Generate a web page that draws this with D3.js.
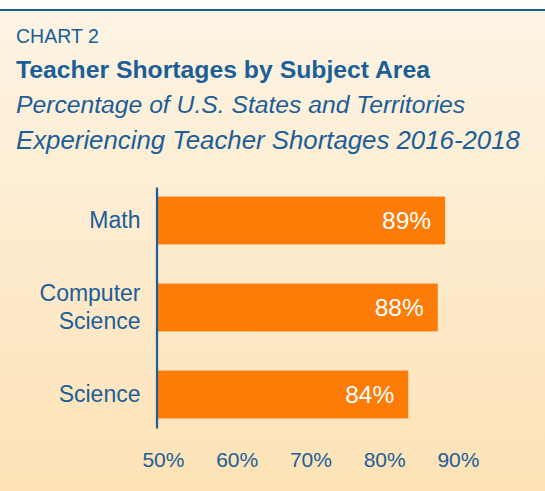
<!DOCTYPE html>
<html>
<head>
<meta charset="utf-8">
<script src="https://cdn.jsdelivr.net/npm/d3@7"></script>
<style>
  body { margin: 0; background: #fff; }
  svg { display: block; font-family: "Liberation Sans", Arial, sans-serif; }
</style>
</head>
<body>
<svg></svg>
<script>
const subjects = ["Math", "Computer Science", "Science"];
const shares = [89, 88, 84];
const tickValues = [50, 60, 70, 80, 90];

const data = subjects.map((s, i) => ({ subject: s, value: shares[i] }));

const width = 545, height = 491;
const blue = "#1c5e98";
const orange = "#fd7b07";

const svg = d3.select("svg")
    .attr("width", width)
    .attr("height", height);

// nền gradient
const grad = svg.append("defs").append("linearGradient")
    .attr("id", "bg")
    .attr("x1", 0).attr("y1", 0).attr("x2", 0).attr("y2", 1);
grad.append("stop").attr("offset", "0%").attr("stop-color", "#fdf4e4");
grad.append("stop").attr("offset", "100%").attr("stop-color", "#fde2b6");

svg.append("rect")
    .attr("x", 0).attr("y", 10)
    .attr("width", width).attr("height", height - 10)
    .attr("fill", "url(#bg)");

svg.append("line")
    .attr("x1", 0).attr("x2", width)
    .attr("y1", 10).attr("y2", 10)
    .attr("stroke", blue)
    .attr("stroke-width", 2.2);

// tiêu đề
svg.append("text")
    .attr("x", 16).attr("y", 43)
    .style("font-size", "19.5px")
    .style("fill", blue)
    .text("CHART 2");

svg.append("text")
    .attr("x", 16).attr("y", 78)
    .style("font-size", "24.75px")
    .style("font-weight", "bold")
    .style("fill", blue)
    .text("Teacher Shortages by Subject Area");

svg.append("text")
    .attr("x", 16).attr("y", 112.5)
    .style("font-size", "24.7px")
    .style("font-style", "italic")
    .style("fill", blue)
    .text("Percentage of U.S. States and Territories");

svg.append("text")
    .attr("x", 16).attr("y", 148.5)
    .style("font-size", "25.8px")
    .style("font-style", "italic")
    .style("fill", blue)
    .text("Experiencing Teacher Shortages 2016-2018");

// thang đo
const x = d3.scaleLinear()
    .domain([50, 90])
    .range([157.5, 452.5]);

const y = d3.scaleBand()
    .domain(subjects)
    .range([187, 428])
    .paddingInner(0.45)
    .paddingOuter(0.11);

// cột
svg.selectAll(".bar")
    .data(data)
    .enter()
    .append("rect")
    .attr("class", "bar")
    .attr("x", x(50))
    .attr("y", d => y(d.subject))
    .attr("width", d => x(d.value) - x(50))
    .attr("height", y.bandwidth())
    .attr("fill", orange);

svg.selectAll(".label")
    .data(data)
    .enter()
    .append("text")
    .attr("class", "label")
    .attr("x", d => x(d.value) - 14)
    .attr("y", d => y(d.subject) + y.bandwidth() / 2)
    .attr("dy", "0.36em")
    .style("text-anchor", "end")
    .style("font-size", "24.5px")
    .style("fill", "white")
    .text(d => d.value + "%");

// trục Y
const yAxis = svg.append("g")
    .attr("transform", "translate(156.5,0)")
    .call(d3.axisLeft(y).tickSize(0).tickSizeOuter(0).tickPadding(16));

yAxis.select(".domain")
    .attr("stroke", blue)
    .attr("stroke-width", 2.2);

yAxis.selectAll("text")
    .style("font-size", "23px")
    .style("fill", blue)
    .attr("font-family", null)
    .each(function(d) {
        const words = d.split(" ");
        const t = d3.select(this).text(null).attr("dy", null);
        words.forEach((w, i) => {
            t.append("tspan")
                .attr("x", -16)
                .attr("dy", i === 0 ? (0.33 - (words.length - 1) * 0.6) + "em" : "1.2em")
                .text(w);
        });
    });

// trục X
const xAxis = svg.append("g")
    .attr("transform", "translate(0,428)")
    .call(d3.axisBottom(x).tickValues(tickValues).tickSize(0).tickPadding(24).tickFormat(d => d + "%"));

xAxis.select(".domain").remove();

xAxis.selectAll("text")
    .attr("dx", 5.4)
    .attr("font-family", null)
    .style("font-size", "21px")
    .style("fill", blue);
</script>
</body>
</html>
